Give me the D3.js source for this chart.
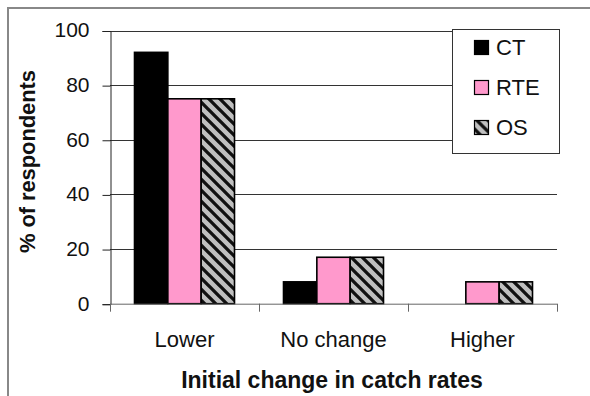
<!DOCTYPE html>
<html>
<head>
<meta charset="utf-8">
<script src="https://cdn.jsdelivr.net/npm/d3@7"></script>
<style>
  html, body { margin: 0; padding: 0; background: #fff; }
  svg { display: block; font-family: "Liberation Sans", Arial, sans-serif; }
</style>
</head>
<body>
<script>
const categories = ["Lower", "No change", "Higher"];
const seriesNames = ["CT", "RTE", "OS"];
const ctValues = [92, 8, 0];
const rteValues = [75, 17, 8];
const osValues = [75, 17, 8];
const yTicks = [0, 20, 40, 60, 80, 100];
const yTitle = "% of respondents";
const xTitle = "Initial change in catch rates";

const seriesValues = [ctValues, rteValues, osValues];
const W = 590, H = 396;
const FONT = "'Liberation Sans', Arial, sans-serif";
const svg = d3.select("body").append("svg").attr("width", W).attr("height", H);

const defs = svg.append("defs");
const pat = defs.append("pattern").attr("id", "hatch")
  .attr("patternUnits", "userSpaceOnUse").attr("width", 11).attr("height", 11);
pat.append("rect").attr("width", 11).attr("height", 11).attr("fill", "#c0c0c0");
pat.append("path").attr("d", "M-3,-3 L14,14 M-3,8 L3,14 M8,-3 L14,3")
  .attr("stroke", "#111").attr("stroke-width", 3.3);

const fills = ["#000000", "#ff99cc", "url(#hatch)"];

// outer frame (left and top edges visible)
svg.append("path").attr("d", `M8,${H} L8,8 L${W},8`)
  .attr("fill", "none").attr("stroke", "#888").attr("stroke-width", 2);

const plot = { left: 110, right: 557, top: 30.5, bottom: 303.7 };

const y = d3.scaleLinear().domain([0, 100]).range([plot.bottom, plot.top]);
const x0 = d3.scaleBand().domain(categories).range([plot.left, plot.right]).paddingInner(0).paddingOuter(0);
const x1 = d3.scaleBand().domain(seriesNames).range([0, x0.bandwidth()]).paddingInner(0).paddingOuter(0.735);

// gridlines
svg.append("g").selectAll("line").data(yTicks.filter(d => d > 0)).join("line")
  .attr("x1", plot.left).attr("x2", plot.right)
  .attr("y1", d => Math.round(y(d)) + 0.5).attr("y2", d => Math.round(y(d)) + 0.5)
  .attr("stroke", "#333").attr("stroke-width", 1);

// y axis
const yAxis = d3.axisLeft(y).tickValues(yTicks).tickSize(8).tickPadding(13).tickFormat(d3.format("d"));
const gy = svg.append("g").attr("transform", `translate(${plot.left + 0.5},0.5)`).call(yAxis)
  .attr("font-family", FONT);
gy.select(".domain").attr("stroke", "#222");
gy.selectAll(".tick line").attr("stroke", "#222");
gy.selectAll(".tick text").attr("font-size", 21).attr("fill", "#111")
  .attr("font-family", FONT).attr("dy", "0.28em");

// bars
const groups = svg.append("g").selectAll("g").data(categories).join("g")
  .attr("transform", c => `translate(${x0(c)},0)`);
groups.selectAll("rect")
  .data((c, ci) => seriesNames.map((s, si) => ({ s, si, v: seriesValues[si][ci] })))
  .join("rect")
  .attr("x", d => x1(d.s)).attr("width", x1.bandwidth())
  .attr("y", d => y(d.v)).attr("height", d => y(0) - y(d.v))
  .attr("fill", d => fills[d.si])
  .attr("stroke", d => d.v > 0 ? "#000" : "none").attr("stroke-width", 1.6);

// x axis
const xTickPos = [plot.left, ...categories.map(c => x0(c) + x0.bandwidth())];
const xa = svg.append("g");
xa.append("line").attr("x1", plot.left).attr("x2", plot.right)
  .attr("y1", plot.bottom + 0.5).attr("y2", plot.bottom + 0.5).attr("stroke", "#666");
xa.selectAll("line.t").data(xTickPos).join("line").attr("class", "t")
  .attr("x1", d => Math.round(d) + 0.5).attr("x2", d => Math.round(d) + 0.5)
  .attr("y1", plot.bottom).attr("y2", plot.bottom + 8).attr("stroke", "#666");
xa.selectAll("text").data(categories).join("text")
  .attr("x", c => x0(c) + x0.bandwidth() / 2).attr("y", 346.5)
  .attr("text-anchor", "middle").attr("font-size", 22).attr("fill", "#111")
  .text(c => c);

// axis titles
svg.append("text").attr("x", 332).attr("y", 388).attr("text-anchor", "middle")
  .attr("font-size", 23).attr("font-weight", "bold").attr("fill", "#111")
  .text(xTitle);
svg.append("text").attr("transform", "translate(35,161.5) rotate(-90)").attr("text-anchor", "middle")
  .attr("font-size", 22).attr("font-weight", "bold").attr("fill", "#111")
  .attr("textLength", 183).attr("lengthAdjust", "spacing").text(yTitle);

// legend
const lg = svg.append("g");
lg.append("rect").attr("x", 452.5).attr("y", 29.5).attr("width", 107).attr("height", 124)
  .attr("fill", "#fff").attr("stroke", "#333").attr("stroke-width", 1);
const ly = d3.scalePoint().domain(seriesNames).range([47.5, 127.5]);
const items = lg.selectAll("g").data(seriesNames).join("g")
  .attr("transform", s => `translate(0,${ly(s)})`);
items.append("rect").attr("x", 474.5).attr("y", -7).attr("width", 14).attr("height", 14)
  .attr("fill", (s, i) => fills[i]).attr("stroke", "#000").attr("stroke-width", 1.2);
items.append("text").attr("x", 496).attr("y", 0).attr("dy", "0.36em")
  .attr("font-size", 22).attr("fill", "#111").text(s => s);
</script>
</body>
</html>
